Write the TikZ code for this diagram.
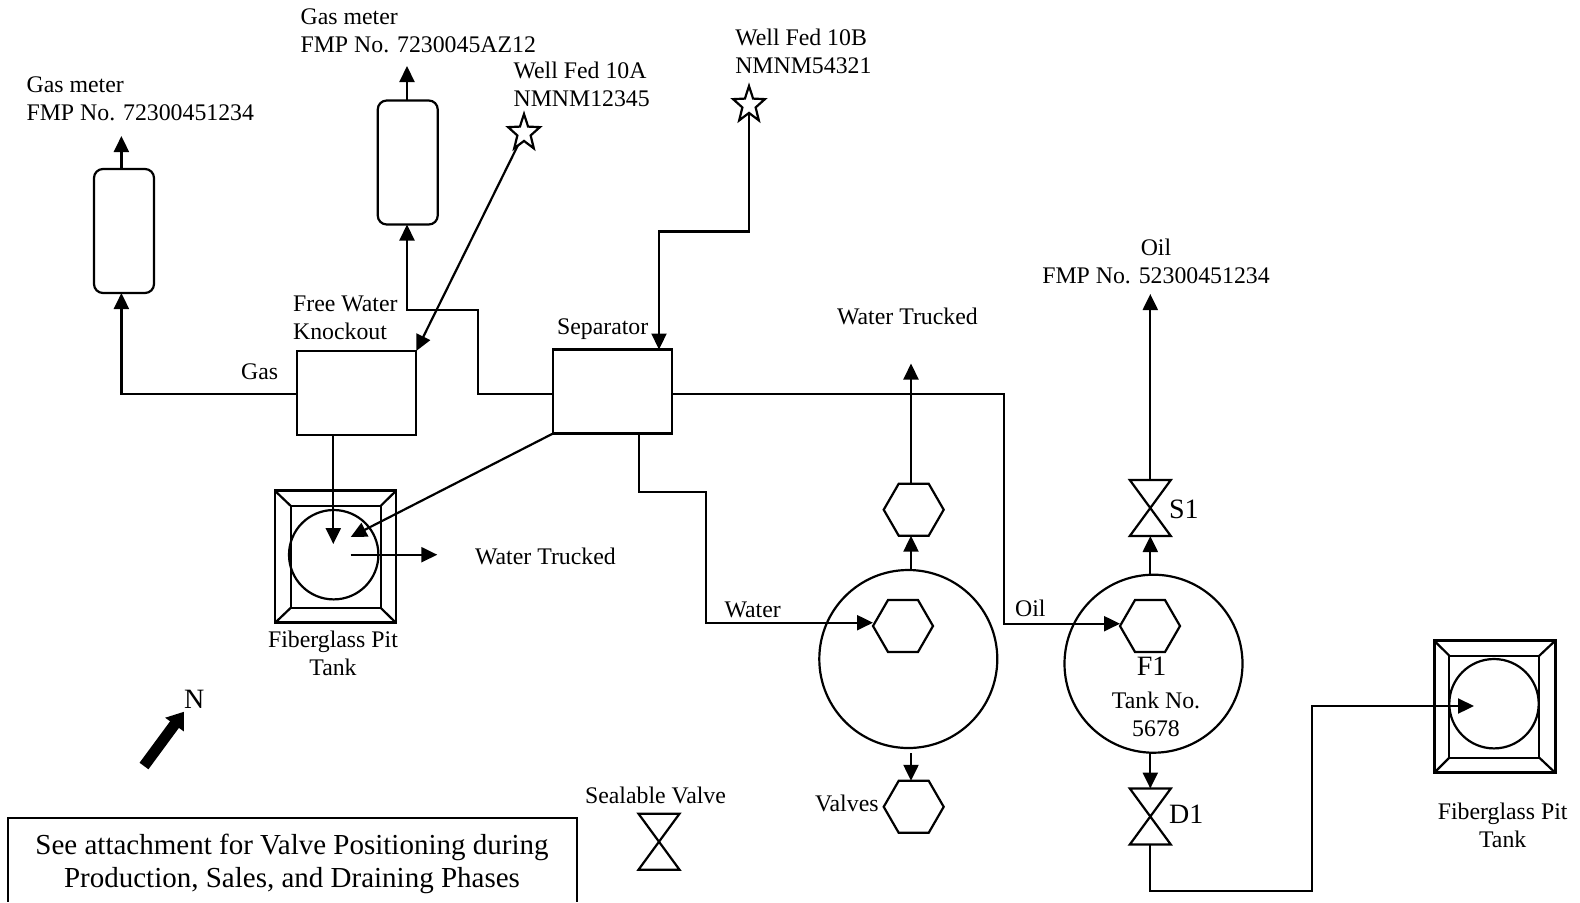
\documentclass[tikz,border=0pt]{standalone}
\usepackage{fontspec}
\setmainfont{Liberation Serif}
\usetikzlibrary{arrows.meta,shapes.geometric}
\tikzset{
  txt/.style={inner sep=0pt,align=left,font=\fontsize{11.9}{14}\selectfont},
  txtmid/.style={txt,align=center},
  txtbig/.style={inner sep=0pt,font=\fontsize{14}{16}\selectfont},
  meter/.style={draw,rounded corners=4.5pt,minimum width=30pt,minimum height=62pt},
  vessel/.style={draw,minimum width=59.5pt,minimum height=42pt},
  pitouter/.style={draw,line width=1.4pt,minimum width=60.5pt,minimum height=66pt},
  pitinner/.style={draw,minimum width=45pt,minimum height=51pt},
  pitround/.style={draw,circle,minimum size=44.7pt},
  tank/.style={draw,circle,minimum size=89pt},
  hexa/.style={draw,regular polygon,regular polygon sides=6,minimum size=30pt},
  well/.style={draw,star,star points=5,star point ratio=2.4,minimum size=19pt,xscale=0.88},
  valve/.style={minimum width=20.5pt,minimum height=28pt}
}
\begin{document}
\begin{tikzpicture}[x=0.5pt,y=-0.5pt,line width=1.1pt,>={Triangle[length=8pt,width=7.5pt]}]
\useasboundingbox (0,0) rectangle (1580,902);

\begin{scope}[every node/.style={inner sep=0pt,outer sep=0pt}]
\node[meter] (meterA) at (124,231) {};
\node[meter] (meterB) at (407.75,162.5) {};
\node[well] (starA) at (524,133) {};
\node[well] (starB) at (749,105) {};
\node[vessel] (kob) at (356.75,393) {};
\node[vessel] (sep) at (612.5,391.5) {};
\node[pitouter] (pitA) at (335.5,556.85) {};
\node[pitinner] (pitAin) at (335.7,556.85) {};
\node[pitround] (pitAc) at (333.7,554.7) {};
\node[pitouter] (pitB) at (1494.7,706.7) {};
\node[pitinner] (pitBin) at (1494.3,706.7) {};
\node[pitround] (pitBc) at (1494,703.7) {};
\node[tank] (tankW) at (908.3,659) {};
\node[tank] (tankF) at (1153.5,663.7) {};
\node[hexa] (hexWtop) at (913.7,509.7) {};
\node[hexa] (hexW) at (903,626) {};
\node[hexa] (hexWbot) at (913.7,806.8) {};
\node[hexa] (hexF) at (1150,626) {};
\node[valve] (S1) at (1150.3,508) {};
\node[valve] (D1) at (1150.3,816.5) {};
\node[valve] (sealV) at (659,841.7) {};
\node[minimum width=284.5pt,minimum height=41.85pt] (noteBox) at (292.5,860.1) {};
\end{scope}

% valve marks and pit corners
\draw (S1.north west) -- (S1.south east) -- (S1.south west) -- (S1.north east) -- cycle;
\draw (D1.north west) -- (D1.south east) -- (D1.south west) -- (D1.north east) -- cycle;
\draw (sealV.north west) -- (sealV.south east) -- (sealV.south west) -- (sealV.north east) -- cycle;
\draw (pitA.north west) -- (pitAin.north west);
\draw (pitA.north east) -- (pitAin.north east);
\draw (pitA.south west) -- (pitAin.south west);
\draw (pitA.south east) -- (pitAin.south east);
\draw (pitB.north west) -- (pitBin.north west);
\draw (pitB.north east) -- (pitBin.north east);
\draw (pitB.south west) -- (pitBin.south west);
\draw (pitB.south east) -- (pitBin.south east);
\draw (noteBox.south west) |- (noteBox.north east) -- (noteBox.south east);

\coordinate (gasA) at (121.4,136);
\coordinate (gasB) at (407,66);
\coordinate (gasBend) at (121.4,394);
\coordinate (sepBendA) at (478,394);
\coordinate (sepBendB) at (407,310);
\coordinate (wellBend) at (659,231.5);
\coordinate (pitTipA) at (333.3,544);
\coordinate (pitTipB) at (350.7,537);
\coordinate (pitOut) at (350.7,554.7);
\coordinate (truckEnd) at (437.3,554.7);
\coordinate (waterBendA) at (639,491.7);
\coordinate (waterBendB) at (705.7,622.7);
\coordinate (waterOut) at (911,363.5);
\coordinate (drainW) at (911,753.3);
\coordinate (oilBend) at (1003.7,623.7);
\coordinate (oilOut) at (1150.3,294);
\coordinate (drainA) at (1312.3,890.7);
\coordinate (drainB) at (1474,706);
\coordinate (northTail) at (144,766);
\coordinate (northTip) at (184,711.7);

\begin{scope}[every edge/.style={draw}]
    \path [->] (gasA |- meterA.north) edge (gasA);
    \path [->] (gasB |- meterB.north) edge (gasB);
    \path [->] (starA) edge (kob.north east);
    \path [->] (pitTipA |- kob.south) edge (pitTipA);
    \path [->] (sep.south west) edge (pitTipB);
    \path [->] (pitOut) edge (truckEnd);
    \path [->] (drainW) edge (drainW |- hexWbot.north);
    \path [->] (waterOut |- tankW.north) edge (waterOut |- hexWtop.south);
    \path [->] (waterOut |- hexWtop.north) edge (waterOut);
    \path [->] (oilOut |- tankF.north) edge (oilOut |- S1.south);
    \path [->] (S1.north) edge (oilOut);
    \path [->] (oilOut |- tankF.south) edge (D1.north);
\end{scope}
\draw [->] (kob.west |- gasBend) -- (gasBend) -- (gasBend |- meterA.south);
\draw [->] (sep.west |- sepBendA) -- (sepBendA) |- (sepBendB) -- (sepBendB |- meterB.south);
\draw [->] (starB) |- (wellBend) -- (wellBend |- sep.north);
\draw [->] (waterBendA |- sep.south) -- (waterBendA) -| (waterBendB) -- (hexW.west |- waterBendB);
\draw [->] (sep.east |- gasBend) -- (oilBend |- gasBend) -- (oilBend) -- (hexF.west |- oilBend);
\draw [->] (D1.south) |- (drainA) |- (drainB);
\draw [line width=5.5pt,-{Triangle[length=8pt,width=11pt]}] (northTail) -- (northTip);

\begin{scope}
\node[txt,anchor=south west] (meterAtxt) at (25.5,122.3) {Gas meter\\FMP No. 72300451234};
\node[txt,anchor=south west] (meterBtxt) at (299.5,54) {Gas meter\\FMP No. 7230045AZ12};
\node[txt,anchor=south west] (wellAtxt) at (512.5,107.7) {Well Fed 10A\\NMNM12345};
\node[txt,anchor=south west] (wellBtxt) at (734.2,74.6) {Well Fed 10B\\NMNM54321};
\node[txt,anchor=south west] (kobtxt) at (292,341) {Free Water\\Knockout};
\node[txt,anchor=base west] (gastxt) at (240,379.8) {Gas};
\node[txt,anchor=base west] (septxt) at (556,334) {Separator};
\node[txt,anchor=base west] (truckA) at (474,564.5) {Water Trucked};
\node[txt,anchor=base west] (truckB) at (836,324.5) {Water Trucked};
\node[txtmid,anchor=south] (pitAtxt) at (333,677) {Fiberglass Pit\\Tank};
\node[txtmid,anchor=south] (pitBtxt) at (1502.7,849) {Fiberglass Pit\\Tank};
\node[txtmid,anchor=south] (oiltxt) at (1156,285) {Oil\\FMP No. 52300451234};
\node[txt,anchor=base west] (watertxt) at (723.5,617) {Water};
\node[txt,anchor=base west] (oilfeed) at (1014,616.5) {Oil};
\node[txtmid,anchor=south] (tanktxt) at (1156,737.7) {Tank No.\\5678};
\node[txt,anchor=base west] (valvestxt) at (814,811) {Valves};
\node[txt,anchor=base west] (sealtxt) at (584,803.2) {Sealable Valve};
\node[txtbig,anchor=base] (F1txt) at (1151.7,675.7) {F1};
\node[txtbig,anchor=base west] (S1txt) at (1168,518.7) {S1};
\node[txtbig,anchor=base west] (D1txt) at (1168,823) {D1};
\node[txtbig,anchor=base west] (northtxt) at (183,708.5) {N};
\node[inner sep=0pt,align=center,font=\fontsize{14.5}{16.5}\selectfont] (notetxt) at (292,864) {See attachment for Valve Positioning during\\Production, Sales, and Draining Phases};
\end{scope}
\end{tikzpicture}
\end{document}
